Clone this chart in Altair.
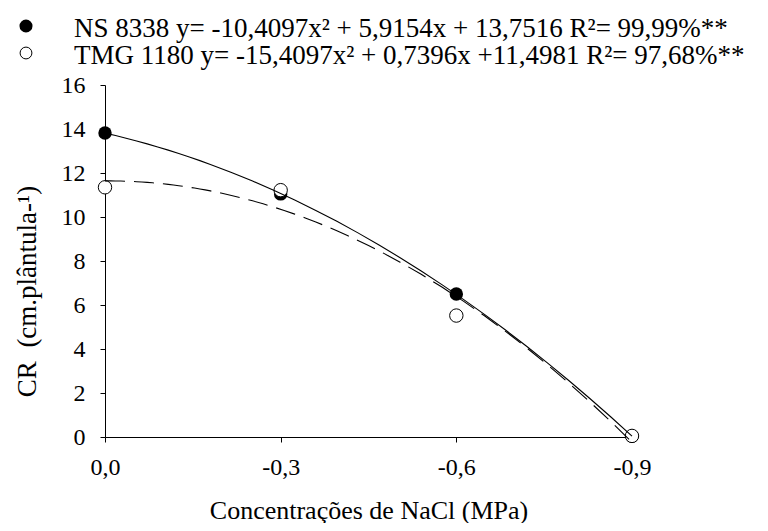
import altair as alt
import pandas as pd

# ---- data ----
conc = [0.0, -0.3, -0.6, -0.9]
ns_8338 = [13.82, 11.05, 6.5, 0.03]
tmg_1180 = [11.35, 11.22, 5.52, 0.05]
x_ticks = [0.0, -0.3, -0.6, -0.9]
y_ticks = [0, 2, 4, 6, 8, 10, 12, 14, 16]
legend_labels = [
    "NS 8338 y= -10,4097x² + 5,9154x + 13,7516 R²= 99,99%**",
    "TMG 1180 y= -15,4097x² + 0,7396x +11,4981 R²= 97,68%**",
]

FONT = "Liberation Serif"

df = pd.DataFrame({
    "conc": conc + conc,
    "cr": ns_8338 + tmg_1180,
    "cultivar": ["NS 8338"] * len(conc) + ["TMG 1180"] * len(conc),
})

x_enc = alt.X(
    "conc:Q",
    scale=alt.Scale(domain=[-0.9, 0], reverse=True, nice=False, zero=False),
    axis=alt.Axis(
        values=x_ticks,
        labelExpr="replace(replace(format(datum.value, '.1f'), '.', ','), '\u2212', '-')",
        labelFlush=False,
        title="Concentrações de NaCl (MPa)",
        titleY=73,
        titleBaseline="middle",
        labelPadding=13,
    ),
)
y_enc = alt.Y(
    "cr:Q",
    scale=alt.Scale(domain=[0, 16], nice=False),
    axis=alt.Axis(
        values=y_ticks,
        title="CR\u00a0\u00a0(cm.plântula-¹)",
        titleX=-78,
        titleY=206,
        titleAngle=-90,
        titleBaseline="middle",
        titleAlign="center",
        titleFontSize=27,
        labelPadding=15,
    ),
)

base = alt.Chart(df)

ns_pts = base.transform_filter(alt.datum.cultivar == "NS 8338").mark_point(
    shape="circle", filled=True, color="black", size=180, opacity=1
).encode(x=x_enc, y=y_enc)

tmg_pts = base.transform_filter(alt.datum.cultivar == "TMG 1180").mark_point(
    shape="circle", filled=True, fill="white", stroke="black", strokeWidth=1, size=180, opacity=1
).encode(x=x_enc, y=y_enc)

ns_fit = base.transform_filter(alt.datum.cultivar == "NS 8338").transform_regression(
    "conc", "cr", method="poly", order=2
).mark_line(color="black", strokeWidth=1.1).encode(x=x_enc, y=y_enc)

tmg_fit = base.transform_filter(alt.datum.cultivar == "TMG 1180").transform_regression(
    "conc", "cr", method="poly", order=2
).mark_line(color="black", strokeWidth=1.1, strokeDash=[20, 9]).encode(x=x_enc, y=y_enc)

leg_df = pd.DataFrame({"label": legend_labels, "kind": ["filled", "open"]})
leg_base = alt.Chart(leg_df)

leg_ns_sym = leg_base.transform_filter(alt.datum.kind == "filled").mark_point(
    shape="circle", filled=True, color="black", size=170, opacity=1
).encode(x=alt.value(-79), y=alt.value(-59))
leg_tmg_sym = leg_base.transform_filter(alt.datum.kind == "open").mark_point(
    shape="circle", filled=True, fill="white", stroke="black", strokeWidth=1, size=140, opacity=1
).encode(x=alt.value(-79), y=alt.value(-32))
leg_ns_txt = leg_base.transform_filter(alt.datum.kind == "filled").mark_text(
    align="left", baseline="alphabetic", font=FONT, fontSize=27, color="black"
).encode(x=alt.value(-31), y=alt.value(-48), text="label:N")
leg_tmg_txt = leg_base.transform_filter(alt.datum.kind == "open").mark_text(
    align="left", baseline="alphabetic", font=FONT, fontSize=27, color="black"
).encode(x=alt.value(-31), y=alt.value(-21), text="label:N")

chart = alt.layer(
    ns_pts, tmg_pts, ns_fit, tmg_fit,
    leg_ns_sym, leg_tmg_sym, leg_ns_txt, leg_tmg_txt,
).properties(
    width=527,
    height=352,
    autosize=alt.AutoSizeParams(type="none"),
    padding={"left": 97, "top": 77, "right": 128, "bottom": 86},
).configure_view(
    stroke=None
).configure_axis(
    grid=False,
    domainColor="black",
    domainWidth=1,
    tickColor="black",
    tickSize=5,
    labelFont=FONT,
    labelFontSize=24,
    labelColor="black",
    titleFont=FONT,
    titleFontSize=26,
    titleColor="black",
    titleFontWeight="normal",
)

chart.save("out.html", embed_options={"renderer": "svg", "actions": False})
